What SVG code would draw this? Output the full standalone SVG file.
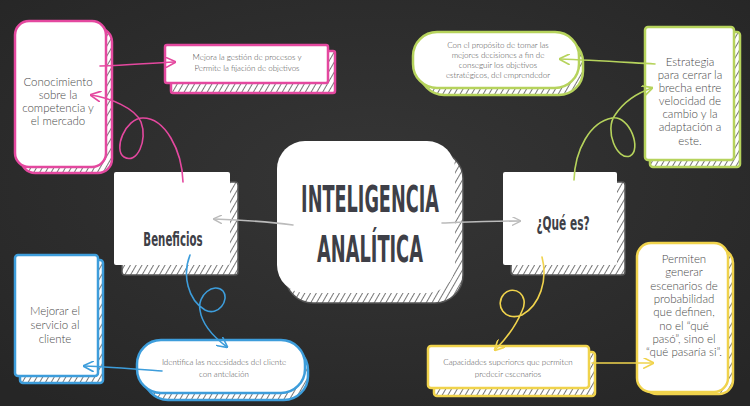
<svg xmlns="http://www.w3.org/2000/svg" width="750" height="406" viewBox="0 0 750 406">
<style>
.sm{font-family:Lato,"Open Sans","Liberation Sans",sans-serif;font-weight:300;font-size:8px;fill:#4a4a4a;text-anchor:middle}
.md{font-family:Lato,"Open Sans","Liberation Sans",sans-serif;font-weight:300;font-size:11.5px;fill:#4a4a4a;text-anchor:middle}
.ttl{font-family:"DejaVu Sans Condensed","Liberation Sans Narrow","Liberation Sans",sans-serif;font-weight:bold;fill:#3e3f47;text-anchor:middle}
.w{fill:#fff}
.sh{fill:url(#hatch);stroke:#555;stroke-width:1.5}
.pk{stroke:#e4489f;stroke-width:2.5}
.gr{stroke:#b6d35c;stroke-width:2.5}
.bl{stroke:#3d9ddb;stroke-width:2.5}
.yl{stroke:#f0d34c;stroke-width:2.5}
.c{fill:none;stroke-width:1.6;stroke-linecap:round}
</style>
<defs>
<pattern id="hatch" width="5" height="5" patternUnits="userSpaceOnUse" patternTransform="rotate(30)">
<rect width="5" height="5" fill="#fff"/>
<line x1="0" y1="0" x2="0" y2="5" stroke="#555" stroke-width="1.6"/>
</pattern>
<radialGradient id="bg" cx="50%" cy="45%" r="70%">
<stop offset="0" stop-color="#363636"/>
<stop offset="1" stop-color="#262626"/>
</radialGradient>
<marker id="ag" viewBox="0 0 10 10" refX="9" refY="5" markerWidth="9" markerHeight="9" orient="auto" markerUnits="userSpaceOnUse"><path d="M0,0 L10,5 L0,10" fill="none" stroke="#bbb" stroke-width="1.5"/></marker>
<marker id="ap" viewBox="0 0 10 10" refX="9" refY="5" markerWidth="11" markerHeight="11" orient="auto" markerUnits="userSpaceOnUse"><path d="M0,0 L10,5 L0,10" fill="none" stroke="#e4489f" stroke-width="1.5"/></marker>
<marker id="agr" viewBox="0 0 10 10" refX="9" refY="5" markerWidth="11" markerHeight="11" orient="auto" markerUnits="userSpaceOnUse"><path d="M0,0 L10,5 L0,10" fill="none" stroke="#b6d35c" stroke-width="1.5"/></marker>
<marker id="ab" viewBox="0 0 10 10" refX="9" refY="5" markerWidth="11" markerHeight="11" orient="auto" markerUnits="userSpaceOnUse"><path d="M0,0 L10,5 L0,10" fill="none" stroke="#3d9ddb" stroke-width="1.5"/></marker>
<marker id="ay" viewBox="0 0 10 10" refX="9" refY="5" markerWidth="11" markerHeight="11" orient="auto" markerUnits="userSpaceOnUse"><path d="M0,0 L10,5 L0,10" fill="none" stroke="#f0d34c" stroke-width="1.5"/></marker>
</defs>
<rect width="750" height="406" fill="url(#bg)"/>

<g id="central">
<rect class="sh" x="285" y="151" width="178" height="152" rx="28"/>
<rect class="w" x="277" y="141" width="178" height="152" rx="28"/>
<text class="ttl" transform="translate(370,212) scale(0.517,1)" font-size="38">INTELIGENCIA</text>
<text class="ttl" transform="translate(370,262) scale(0.52,1)" font-size="38">ANALÍTICA</text>
</g>

<g id="beneficios">
<rect class="sh" x="122" y="182" width="116" height="93" rx="3"/>
<rect class="w" x="114" y="172" width="116" height="93" rx="2"/>
<text class="ttl" transform="translate(173,246) scale(0.57,1)" font-size="20">Beneficios</text>
</g>

<g id="quees">
<rect class="sh" x="511" y="182" width="114" height="93" rx="3"/>
<rect class="w" x="503" y="172" width="114" height="93" rx="2"/>
<text class="ttl" transform="translate(563,230) scale(0.62,1)" font-size="19">¿Qué es?</text>
</g>

<g id="conocimiento">
<rect class="sh pk" x="21" y="28" width="91" height="145" rx="14"/>
<rect class="w pk" x="15" y="21" width="91" height="146" rx="14"/>
<text class="md" x="58" y="86">Conocimiento</text>
<text class="md" x="58" y="99">sobre la</text>
<text class="md" x="58" y="112">competencia y</text>
<text class="md" x="58" y="125">el mercado</text>
</g>

<g id="mejora">
<rect class="sh pk" x="171" y="51" width="164" height="42" rx="2"/>
<rect class="w pk" x="165" y="45" width="163" height="38" rx="2"/>
<text class="sm" x="247" y="60">Mejora la gestión de procesos y</text>
<text class="sm" x="247" y="71">Permite la fijación de objetivos</text>
</g>

<g id="proposito">
<rect class="sh gr" x="420" y="38" width="163" height="57" rx="24"/>
<rect class="w gr" x="413" y="32" width="166" height="56" rx="24"/>
<text class="sm" x="498" y="48">Con el propósito de tomar las</text>
<text class="sm" x="498" y="58">mejores decisiones a fin de</text>
<text class="sm" x="498" y="68">conseguir los objetivos</text>
<text class="sm" x="498" y="78">estratégicos, del emprendedor</text>
</g>

<g id="estrategia">
<rect class="sh gr" x="650" y="32" width="90" height="135" rx="3"/>
<rect class="w gr" x="645" y="27" width="89" height="133" rx="3"/>
<text class="md" x="690" y="66">Estrategia</text>
<text class="md" x="690" y="79">para cerrar la</text>
<text class="md" x="690" y="92">brecha entre</text>
<text class="md" x="690" y="105">velocidad de</text>
<text class="md" x="690" y="118">cambio y la</text>
<text class="md" x="690" y="131">adaptación a</text>
<text class="md" x="690" y="145">este.</text>
</g>

<g id="servicio">
<rect class="sh bl" x="20" y="260" width="83" height="123" rx="3"/>
<rect class="w bl" x="15" y="255" width="83" height="121" rx="3"/>
<text class="md" x="55" y="315">Mejorar el</text>
<text class="md" x="55" y="329">servicio al</text>
<text class="md" x="55" y="343">cliente</text>
</g>

<g id="identifica">
<rect class="sh bl" x="144" y="346" width="164" height="54" rx="24"/>
<rect class="w bl" x="137" y="340" width="168" height="53" rx="24"/>
<text class="sm" x="224" y="365">Identifica las necesidades del cliente</text>
<text class="sm" x="224" y="377">con antelación</text>
</g>

<g id="capacidades">
<rect class="sh yl" x="434" y="352" width="161" height="44" rx="3"/>
<rect class="w yl" x="428" y="346" width="161" height="42" rx="3"/>
<text class="sm" x="508" y="365">Capacidades superiores que permiten</text>
<text class="sm" x="508" y="377">predecir escenarios</text>
</g>

<g id="permiten">
<rect class="sh yl" x="643" y="249" width="90" height="145" rx="14"/>
<rect class="w yl" x="637" y="243" width="91" height="149" rx="14"/>
<text class="md" x="684" y="263">Permiten</text>
<text class="md" x="684" y="276">generar</text>
<text class="md" x="684" y="290">escenarios de</text>
<text class="md" x="684" y="303">probabilidad</text>
<text class="md" x="684" y="316">que definen,</text>
<text class="md" x="684" y="330">no el “qué</text>
<text class="md" x="684" y="343">pasó”, sino el</text>
<text class="md" x="684" y="356">“qué pasaría si”.</text>
</g>

<g id="connectors">
<path class="c" stroke="#bbb" d="M293,225 C270,222 240,220 214,219" marker-end="url(#ag)"/>
<path class="c" stroke="#bbb" d="M442,223 C470,222 495,221 520,221" marker-end="url(#ag)"/>
<path class="c" stroke="#e4489f" d="M100,66 C130,65 150,63 175,62" marker-end="url(#ap)"/>
<path class="c" stroke="#e4489f" d="M183,182 C182,150 165,118 143,118 C125,118 113,150 124,157 C137,165 148,140 141,122 C135,108 110,98 91,95" marker-end="url(#ap)"/>
<path class="c" stroke="#b6d35c" d="M655,64 C620,62 590,60 560,59" marker-end="url(#agr)"/>
<path class="c" stroke="#b6d35c" d="M574,180 C575,150 590,122 612,118 C630,115 642,150 630,156 C617,161 604,130 615,115 C625,100 640,92 652,88" marker-end="url(#agr)"/>
<path class="c" stroke="#3d9ddb" d="M162,371 C135,369 110,367 84,366" marker-end="url(#ab)"/>
<path class="c" stroke="#3d9ddb" d="M190,255 C182,275 188,300 205,310 C218,317 230,300 223,291 C214,282 197,295 200,310 C202,325 215,338 227,347" marker-end="url(#ab)"/>
<path class="c" stroke="#f0d34c" d="M592,363 C612,363 632,363 653,363" marker-end="url(#ay)"/>
<path class="c" stroke="#f0d34c" d="M542,257 C548,280 540,305 522,315 C505,322 494,305 504,294 C514,284 530,295 522,311 C515,328 505,340 495,350" marker-end="url(#ay)"/>
</g>
</svg>
